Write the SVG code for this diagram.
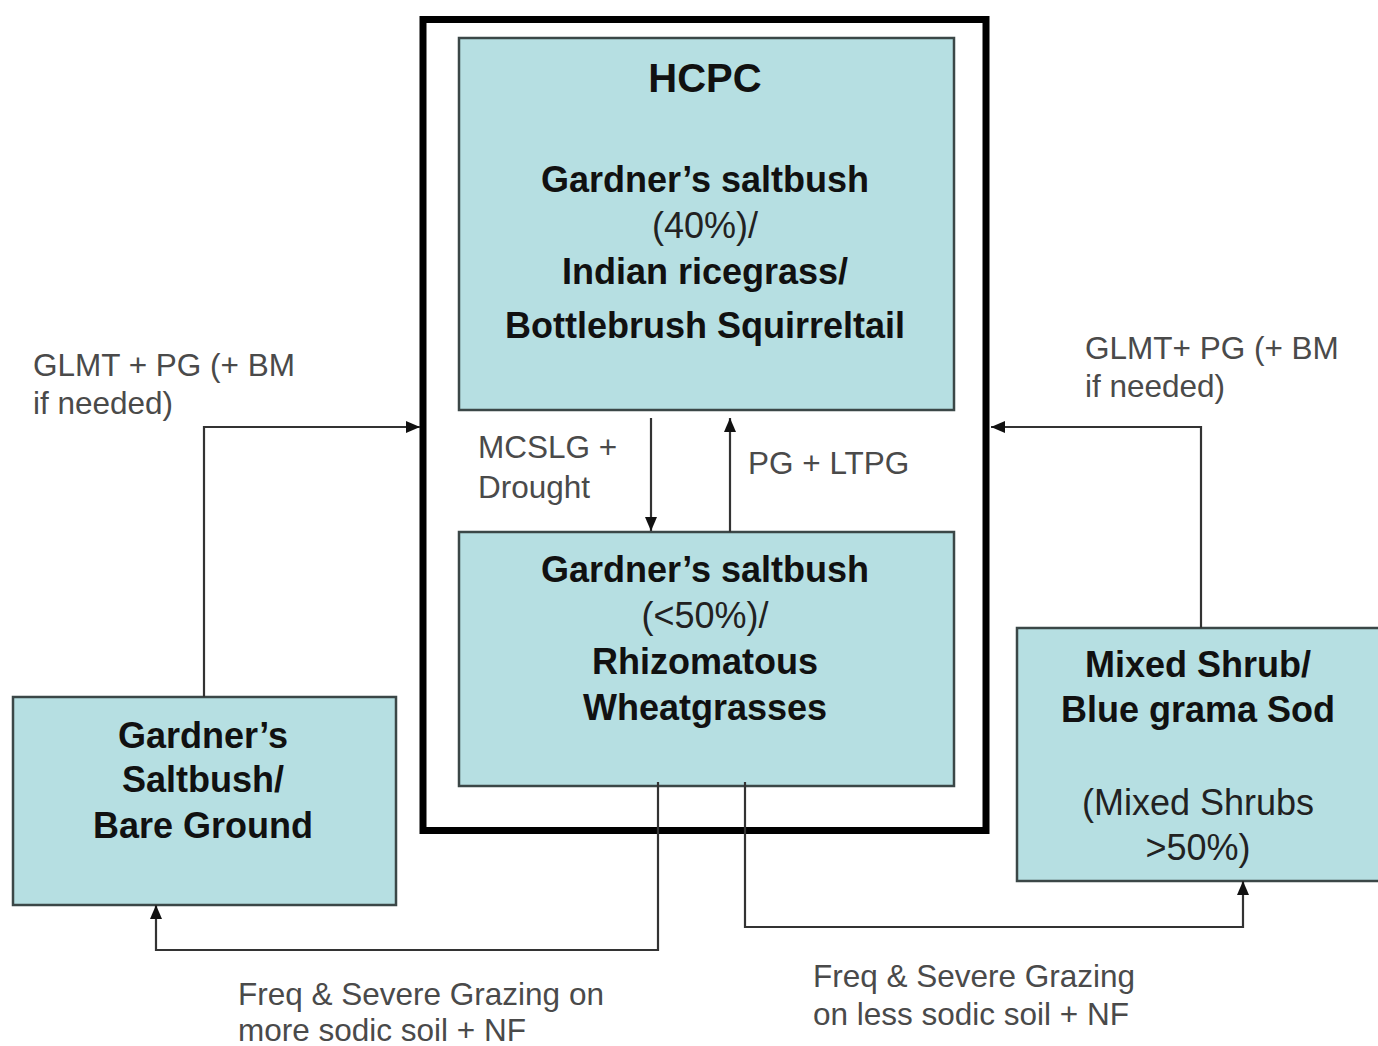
<svg xmlns="http://www.w3.org/2000/svg" width="1378" height="1046" viewBox="0 0 1378 1046">
<style>
.box{fill:#b6dfe2;stroke:#3b4747;stroke-width:2.5}
.b{font-family:"Liberation Sans",Arial,sans-serif;font-weight:bold;font-size:36px;fill:#111;text-anchor:middle}
.r{font-family:"Liberation Sans",Arial,sans-serif;font-size:36px;fill:#222;text-anchor:middle}
.lbl{font-family:"Liberation Sans",Arial,sans-serif;font-size:31.5px;fill:#4a4a4a}
.c{fill:none;stroke:#333;stroke-width:2.2}
</style>
<defs>
<marker id="ah" viewBox="0 0 14 12" refX="14" refY="6" markerWidth="14" markerHeight="12" orient="auto" markerUnits="userSpaceOnUse">
<path d="M0,0 L14,6 L0,12 z" fill="#111"/>
</marker>
</defs>
<rect width="1378" height="1046" fill="#fff"/>
<g id="outer">
<rect x="423" y="19.5" width="563" height="811" fill="none" stroke="#000" stroke-width="7"/>
</g>
<g id="hcpc">
<rect class="box" x="459" y="38" width="495" height="372"/>
<text class="b" x="705" y="92" style="font-size:40px">HCPC</text>
<text class="b" x="705" y="192">Gardner’s saltbush</text>
<text class="r" x="705" y="238">(40%)/</text>
<text class="b" x="705" y="284">Indian ricegrass/</text>
<text class="b" x="705" y="338">Bottlebrush Squirreltail</text>
</g>
<g id="lower">
<rect class="box" x="459" y="532" width="495" height="254"/>
<text class="b" x="705" y="582">Gardner’s saltbush</text>
<text class="r" x="705" y="628">(&lt;50%)/</text>
<text class="b" x="705" y="674">Rhizomatous</text>
<text class="b" x="705" y="720">Wheatgrasses</text>
</g>
<g id="left">
<rect class="box" x="13" y="697" width="383" height="208"/>
<text class="b" x="203" y="748">Gardner’s</text>
<text class="b" x="203" y="792">Saltbush/</text>
<text class="b" x="203" y="838">Bare Ground</text>
</g>
<g id="right">
<rect class="box" x="1017" y="628" width="363" height="253"/>
<text class="b" x="1198" y="677">Mixed Shrub/</text>
<text class="b" x="1198" y="722">Blue grama Sod</text>
<text class="r" x="1198" y="815">(Mixed Shrubs</text>
<text class="r" x="1198" y="860">&gt;50%)</text>
</g>
<g id="connectors">
<path class="c" d="M204,697 V427 H420" marker-end="url(#ah)"/>
<path class="c" d="M1201,628 V427 H991" marker-end="url(#ah)"/>
<path class="c" d="M651,418 V531" marker-end="url(#ah)"/>
<path class="c" d="M730,532 V418" marker-end="url(#ah)"/>
<path class="c" d="M658,782 V950 H156 V905" marker-end="url(#ah)"/>
<path class="c" d="M745,782 V927 H1243 V881" marker-end="url(#ah)"/>
</g>
<g id="labels">
<text class="lbl" x="33" y="376">GLMT + PG (+ BM</text>
<text class="lbl" x="33" y="414">if needed)</text>
<text class="lbl" x="1085" y="359">GLMT+ PG (+ BM</text>
<text class="lbl" x="1085" y="397">if needed)</text>
<text class="lbl" x="478" y="458">MCSLG +</text>
<text class="lbl" x="478" y="498">Drought</text>
<text class="lbl" x="748" y="474">PG + LTPG</text>
<text class="lbl" x="238" y="1005">Freq &amp; Severe Grazing on</text>
<text class="lbl" x="238" y="1041">more sodic soil + NF</text>
<text class="lbl" x="813" y="987">Freq &amp; Severe Grazing</text>
<text class="lbl" x="813" y="1025">on less sodic soil + NF</text>
</g>
</svg>
